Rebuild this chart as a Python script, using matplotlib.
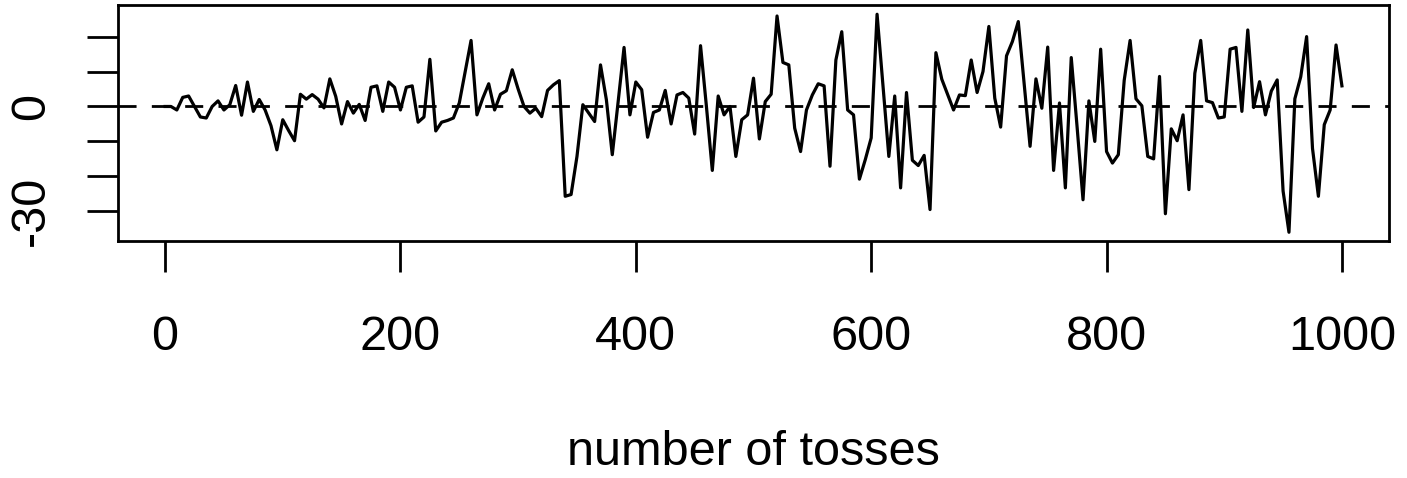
import numpy as np
import matplotlib
matplotlib.use("Agg")
import matplotlib.pyplot as plt

# running difference (heads - tails) recorded every 5 tosses
tosses = list(range(0, 1001, 5))
diff = [
    0, 0, -1, 2.6, 3, 0, -3, -3.3, 0, 1.6,
    -1, 0.5, 6, -2.5, 7, -1.4, 2, -1, -5.5, -12.4,
    -3.8, -6.9, -9.8, 3.5, 2.1, 3.4, 2.1, -0.4, 7.9, 2.9,
    -5, 1.4, -1.9, 0.6, -4, 5.5, 5.9, -1.4, 7, 5.5,
    -1, 5.5, 5.9, -4.5, -3, 13.5, -7, -4.5, -4, -3.3,
    1, 10, 18.9, -2.4, 2.4, 6.5, -1, 3.5, 4.5, 10.5,
    5, 0, -1.9, -0.5, -2.9, 4.6, 6.2, 7.4, -25.7, -25.2,
    -14.3, 0.5, -1.9, -4.3, 11.9, 1.9, -13.8, 1.4, 16.9, -2.4,
    7, 4.8, -8.8, -1.7, -1, 4.6, -5, 3.3, 4, 2.4,
    -7.9, 17.4, 0, -18.3, 3, -2.4, 0, -14.3, -3.8, -2.4,
    8.1, -9.3, 1.4, 3.5, 25.9, 12.6, 11.9, -6.2, -12.9, -1,
    3.3, 6.5, 5.9, -17.1, 13.3, 21.4, -1, -2.4, -20.8, -15.2,
    -9, 26.4, 6.2, -14.3, 3, -23.3, 4, -15.4, -16.9, -14,
    -29.5, 15.4, 7.8, 3.4, -1, 3.3, 3.1, 13.3, 4, 10,
    22.9, 2.4, -5.9, 14.5, 18.6, 24.3, 6.5, -11.4, 7.9, -0.5,
    17, -18.3, 1, -23.3, 14, -6, -26.7, 1.6, -10, 16.4,
    -12.9, -16.2, -13.8, 7.5, 18.9, 2.2, 0.2, -14.3, -15, 8.6,
    -30.7, -6.4, -9.8, -2.4, -23.8, 9.5, 18.9, 1.6, 1.1, -3.3,
    -3, 16.4, 16.9, -1.4, 21.9, -0.3, 7.1, -2.4, 4.4, 7.6,
    -24.2, -36, 2.2, 8.5, 20, -12, -25.7, -5.2, -1, 17.6,
    5.9,
]

xticks = [0, 200, 400, 600, 800, 1000]
yticks = [-30, -20, -10, 0, 10, 20]
ylabels = ["-30", "", "", "0", "", ""]

plt.rcParams['font.family'] = ['Liberation Sans', 'DejaVu Sans']

W, H = 1407, 478
fig = plt.figure(figsize=(W / 100, H / 100), dpi=100)
ax = fig.add_axes([118 / W, 1 - 241 / H, (1389 - 118) / W, (241 - 5.5) / H])

ax.plot(tosses, diff, color='black', lw=2.3)
ax.axhline(0, color='black', lw=2.0, dashes=(6.5, 5.5))

ax.set_xlim(-40, 1040)
ax.set_ylim(-38.5, 28.9)
ax.set_xticks(xticks)
ax.set_xticklabels([str(t) for t in xticks])
ax.set_yticks(yticks)
ax.set_yticklabels(ylabels, rotation=90, va='center')

for s in ax.spines.values():
    s.set_linewidth(2.0)
ax.tick_params(axis='both', direction='out', length=22, width=2.0, labelsize=35)
ax.tick_params(axis='x', pad=31)
ax.tick_params(axis='y', pad=24)

fig.text((118 + 1389) / 2 / W, 1 - 465 / H, 'number of tosses',
         ha='center', va='baseline', fontsize=35)

fig.savefig('out.png', dpi=100)
